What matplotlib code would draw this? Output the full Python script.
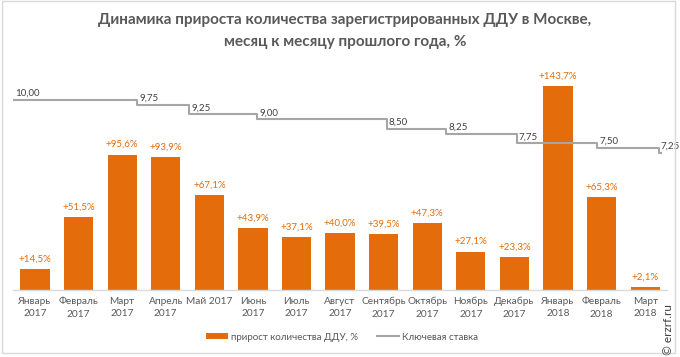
import calendar
import matplotlib
matplotlib.use("Agg")
import matplotlib.pyplot as plt
from matplotlib.patches import Rectangle
from matplotlib.lines import Line2D
from matplotlib.patches import Patch

plt.rcParams['font.family'] = ['Lato', 'DejaVu Sans']

# ---- data ----
categories = ["Январь\n2017", "Февраль\n2017", "Март\n2017", "Апрель\n2017", "Май 2017",
              "Июнь\n2017", "Июль\n2017", "Август\n2017", "Сентябрь\n2017", "Октябрь\n2017",
              "Ноябрь\n2017", "Декабрь\n2017", "Январь\n2018", "Февраль\n2018", "Март\n2018"]
growth = [14.5, 51.5, 95.6, 93.9, 67.1, 43.9, 37.1, 40.0, 39.5, 47.3, 27.1, 23.3, 143.7, 65.3, 2.1]
rate_dates = ["2017-01-01", "2017-03-27", "2017-05-02", "2017-06-19", "2017-09-18",
              "2017-10-30", "2017-12-18", "2018-02-12", "2018-03-26"]
rates = [10.00, 9.75, 9.25, 9.00, 8.50, 8.25, 7.75, 7.50, 7.25]
rate_end_date = "2018-03-28"

ORANGE = "#E46C0A"
GREY = "#A6A6A6"
TEXT = "#595959"
DARK = "#404040"


def date_to_x(s):
    y, m, d = map(int, s.split("-"))
    idx = (y - 2017) * 12 + (m - 1)
    ndays = calendar.monthrange(y, m)[1]
    return idx - 0.5 + (d - 1) / ndays


W, H = 680, 357
fig = plt.figure(figsize=(W / 100, H / 100), dpi=100)

# outer frame
fig.patches.append(Rectangle((2 / W, 1 - 353 / H), (675 - 2) / W, (353 - 1) / H,
                             transform=fig.transFigure, fill=False,
                             edgecolor="#D9D9D9", linewidth=1))

ax_l, ax_r, ax_t, ax_b = 13.2, 667, 70, 290
ax = fig.add_axes([ax_l / W, 1 - ax_b / H, (ax_r - ax_l) / W, (ax_b - ax_t) / H])

x = list(range(len(categories)))
ax.bar(x, growth, width=0.67, color=ORANGE, zorder=2)
ax.set_xlim(-0.5, len(categories) - 0.5)
ax.set_ylim(0, (ax_b - ax_t) / 1.417)
for xi, v in zip(x, growth):
    lab = "+" + f"{v:.1f}".replace(".", ",") + "%"
    ax.annotate(lab, (xi, v), xytext=(0, 4), textcoords="offset points",
                ha="center", va="bottom", fontsize=7, color=ORANGE)

ax.set_xticks(x)
ax.set_xticklabels(categories, fontsize=7.3, color=TEXT, linespacing=1.5)
ax.tick_params(axis="x", length=0, pad=5)
ax.set_yticks([])
for s in ["top", "right", "left"]:
    ax.spines[s].set_visible(False)
ax.spines["bottom"].set_color("#D9D9D9")
ax.spines["bottom"].set_linewidth(1)

# key rate on secondary axis
ax2 = ax.twinx()
px_per_unit = 19.3
r_top = 10 + (100 - ax_t) / px_per_unit
r_bot = 10 - (ax_b - 100) / px_per_unit
ax2.set_ylim(r_bot, r_top)
xs = [date_to_x(d) for d in rate_dates] + [date_to_x(rate_end_date)]
ys = rates + [rates[-1]]
ax2.plot(xs, ys, drawstyle="steps-post", color=GREY, linewidth=1.5, zorder=3)
for xd, r in zip(xs[:-1], rates):
    ax2.annotate(f"{r:.2f}".replace(".", ","), (xd, r), xytext=(1.5, 1.5),
                 textcoords="offset points", ha="left", va="bottom",
                 fontsize=7, color=DARK)
ax2.set_yticks([])
for s in ["top", "right", "left", "bottom"]:
    ax2.spines[s].set_visible(False)

# title
fig.text(345 / W, 1 - 20 / H, "Динамика прироста количества зарегистрированных ДДУ в Москве,",
         ha="center", va="center", fontsize=11, fontweight="bold", color=TEXT)
fig.text(345 / W, 1 - 42 / H, "месяц к месяцу прошлого года, %",
         ha="center", va="center", fontsize=11, fontweight="bold", color=TEXT)

# legend
handles = [Patch(facecolor=ORANGE, edgecolor="none", label="прирост количества ДДУ, %"),
           Line2D([0], [0], color=GREY, linewidth=1.5, label="Ключевая ставка")]
fig.legend(handles=handles, loc="center", bbox_to_anchor=(342 / W, 1 - 337 / H),
           ncol=2, frameon=False, fontsize=7, labelcolor=TEXT,
           handlelength=2.2, handleheight=0.6, handletextpad=0.3, columnspacing=2.0)

# watermark
fig.text(668 / W, 1 - 330 / H, "© erzrf.ru", rotation=90, ha="center", va="center",
         fontsize=8.5, color=DARK)

fig.savefig("out.png", dpi=100)
